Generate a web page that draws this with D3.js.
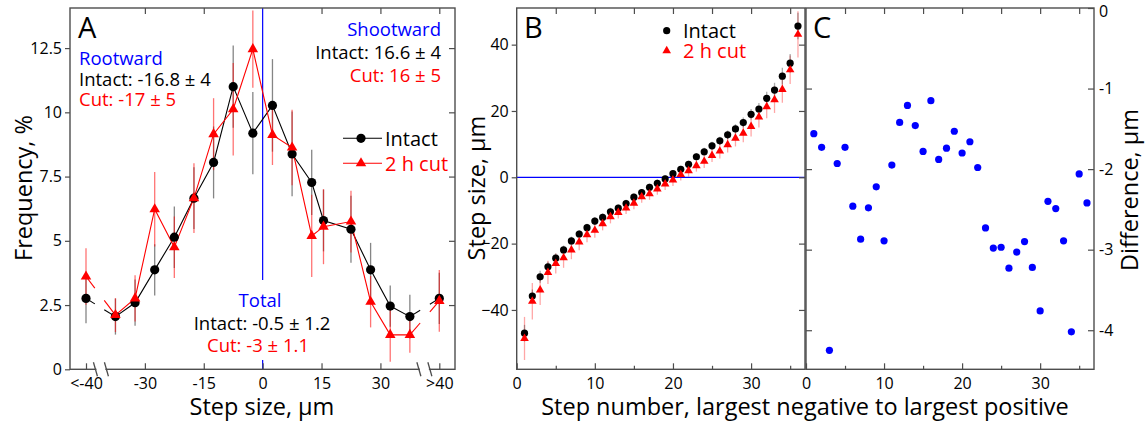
<!DOCTYPE html>
<html><head><meta charset="utf-8">
<script src="https://cdn.jsdelivr.net/npm/d3@7"></script>
<style>
body{margin:0;background:#fff}
text{font-family:"Open Sans",Lato,sans-serif}
</style>
</head><body>
<svg id="chart" width="1147" height="429"></svg>
<script>
// ---------- Panel A data ----------
const aBins = [-45,-37.5,-32.5,-27.5,-22.5,-17.5,-12.5,-7.5,-2.5,2.5,7.5,12.5,15.5,22.5,27.5,32.5,37.5,45];
const aIntact = [2.76,2.05,2.59,3.87,5.14,6.66,8.05,11.0,9.19,10.27,8.38,7.27,5.79,5.45,3.87,2.46,2.05,2.76];
const aIntactErr = [0.97,0.7,0.9,1.0,1.2,1.2,1.4,1.6,1.6,1.8,1.65,1.27,1.2,1.3,1.05,0.8,0.85,1.0];
const aCut = [3.61,2.11,2.76,6.23,4.75,6.66,9.15,10.12,12.46,9.12,8.63,5.19,5.55,5.75,2.63,1.34,1.34,2.66];
const aCutErr = [1.1,0.66,0.9,1.45,1.2,1.36,1.4,1.8,1.5,1.17,1.47,1.6,1.46,1.2,1.0,1.05,0.7,1.2];
const aXTicks = [-45,-30,-15,0,15,30,45];
const aXTickLabels = ["<-40","-30","-15","0","15","30",">40"];
const aYTicks = [0,2.5,5,7.5,10,12.5];

// ---------- Panel B data ----------
const stepNum = [1,2,3,4,5,6,7,8,9,10,11,12,13,14,15,16,17,18,19,20,21,22,23,24,25,26,27,28,29,30,31,32,33,34,35,36];
const bIntact = [-47.0,-35.8,-30.0,-27.0,-24.4,-21.9,-19.2,-17.1,-15.2,-13.2,-12.1,-10.4,-9.3,-7.9,-6.0,-4.6,-3.0,-1.8,-0.5,1.1,2.4,3.9,6.2,7.7,9.5,11.0,12.8,14.6,16.5,19.0,20.6,23.8,26.3,30.5,34.4,45.6];
const bIntactErr = [2.5,2,1.8,1.5,1.4,1.3,1.3,1.2,1.2,1.2,1.2,1.2,1.1,1.1,1.1,1.1,1.1,1.1,1.1,1.1,1.1,1.1,1.1,1.2,1.2,1.2,1.3,1.4,1.5,1.6,1.8,2,2.2,2.5,2.8,4];
const bCut = [-48.6,-37.4,-34.0,-28.7,-26.0,-24.3,-21.9,-19.5,-17.3,-16.0,-14.0,-11.9,-10.6,-9.3,-7.8,-5.9,-5.0,-3.5,-2.0,-0.8,0.8,2.0,3.5,4.8,6.6,7.9,9.8,11.8,13.3,15.3,18.2,21.3,23.4,26.5,32.4,43.1];
const bCutErr = [6.5,5.5,4.5,3.5,3,3,2.8,2.5,2.3,2.2,2,2,1.8,1.8,1.8,1.8,1.8,1.8,1.8,1.8,1.8,1.8,1.8,2,2,2.2,2.3,2.5,2.7,3,3.2,3.5,4,4,4.3,7];
const bYTicks = [-40,-20,0,20,40];
const stepTicksMajor = [0,10,20,30];
const stepTicksMinor = [5,15,25,35];

// ---------- Panel C data ----------
const cDiff = [-1.56,-1.73,-4.25,-1.93,-1.73,-2.46,-2.87,-2.48,-2.22,-2.89,-1.95,-1.42,-1.21,-1.46,-1.78,-1.15,-1.88,-1.74,-1.53,-1.80,-1.66,-1.98,-2.73,-2.98,-2.97,-3.23,-3.03,-2.90,-3.22,-3.76,-2.40,-2.49,-2.89,-4.02,-2.06,-2.42];
const cYTicks = [0,-1,-2,-3,-4];

// ---------- styles ----------
const RED = "#ff0000", BLUE = "#0000ff", AX = "#4d4d4d";
const FONT = "'Open Sans', Lato, sans-serif";
const TICKFS = 16, TITLEFS = 23.5, ANNFS = 18.5, LEGFS = 20, LETFS = 29;

const svg = d3.select("#chart");
const pTop = 8, pBottom = 369.3;

function styleAxis(g){
  g.selectAll(".domain").remove();
  g.selectAll(".tick line").attr("stroke", AX).attr("stroke-width", 1.2);
  g.selectAll(".tick text").attr("fill", "#000").style("font-size", TICKFS + "px").style("font-family", FONT);
  return g;
}
function frame(x0, x1){
  svg.append("rect").attr("x", x0).attr("y", pTop).attr("width", x1 - x0).attr("height", pBottom - pTop)
    .attr("fill", "none").attr("stroke", AX).attr("stroke-width", 1.4);
}
function tri(g, x, y, size, color){
  g.append("path").attr("d", d3.symbol(d3.symbolTriangle, size)())
    .attr("transform", `translate(${x},${y})`).attr("fill", color);
}
function title(x, y, s, rot){
  const t = svg.append("text").attr("text-anchor", "middle").style("font-size", TITLEFS + "px").text(s);
  if (rot) t.attr("transform", `translate(${x},${y}) rotate(-90)`); else t.attr("x", x).attr("y", y);
}

// ================= Panel A =================
const xA = d3.scaleLinear().domain([-45, 45]).range([86, 439.3]);
const yA = d3.scaleLinear().domain([0, 14.06]).range([pBottom, pTop]);
const aL = 70, aR = 455;
const gA = svg.append("g");

gA.append("line").attr("x1", xA(0)).attr("x2", xA(0)).attr("y1", pTop).attr("y2", 280).attr("stroke", BLUE).attr("stroke-width", 1.2);
gA.append("line").attr("x1", xA(0)).attr("x2", xA(0)).attr("y1", 360).attr("y2", pBottom).attr("stroke", BLUE).attr("stroke-width", 1.2);

styleAxis(svg.append("g").attr("transform", `translate(${aL},0)`)
  .call(d3.axisLeft(yA).tickValues(aYTicks).tickSize(5).tickPadding(3).tickFormat(d => d === 0 ? "0" : String(d))));
styleAxis(svg.append("g").attr("transform", `translate(${aR},0)`)
  .call(d3.axisRight(yA).tickValues(aYTicks.filter(d => d > 0)).tickSize(-6).tickFormat("")));
styleAxis(svg.append("g").attr("transform", `translate(0,${pBottom})`)
  .call(d3.axisBottom(xA).tickValues(aXTicks).tickSize(-6).tickPadding(8).tickFormat((d, i) => aXTickLabels[i])));
styleAxis(svg.append("g").attr("transform", `translate(0,${pTop})`)
  .call(d3.axisTop(xA).tickValues([-30,-15,15,30,45]).tickSize(-6).tickFormat("")));
frame(aL, aR);

// axis break marks
[[xA(-42.6), xA(-39.8)], [xA(39.8), xA(42.6)]].forEach(([p, q]) => {
  svg.append("line").attr("x1", p + 1).attr("x2", q - 1).attr("y1", pBottom).attr("y2", pBottom).attr("stroke", "#fff").attr("stroke-width", 3);
  [p, q].forEach(x => svg.append("line").attr("x1", x - 2).attr("y1", pBottom - 7).attr("x2", x + 2).attr("y2", pBottom + 7)
    .attr("stroke", AX).attr("stroke-width", 1.3));
});

aBins.forEach((b, i) => {
  gA.append("line").attr("x1", xA(b)).attr("x2", xA(b)).attr("y1", yA(aIntact[i] - aIntactErr[i])).attr("y2", yA(aIntact[i] + aIntactErr[i]))
    .attr("stroke", "#333").attr("stroke-opacity", 0.6).attr("stroke-width", 1.3);
  gA.append("line").attr("x1", xA(b)).attr("x2", xA(b)).attr("y1", yA(aCut[i] - aCutErr[i])).attr("y2", yA(aCut[i] + aCutErr[i]))
    .attr("stroke", RED).attr("stroke-opacity", 0.55).attr("stroke-width", 1.3);
});

function drawSeries(vals, color){
  const pts = aBins.map((b, i) => [xA(b), yA(vals[i])]);
  const line = d3.line();
  gA.append("path").attr("d", line(pts.slice(1, pts.length - 1))).attr("fill", "none").attr("stroke", color).attr("stroke-width", 1.1);
  const seg = (a, c, t0, t1) => [[a[0] + (c[0] - a[0]) * t0, a[1] + (c[1] - a[1]) * t0], [a[0] + (c[0] - a[0]) * t1, a[1] + (c[1] - a[1]) * t1]];
  const n = pts.length;
  [seg(pts[0], pts[1], 0, 0.3), seg(pts[0], pts[1], 0.62, 1), seg(pts[n - 2], pts[n - 1], 0, 0.35), seg(pts[n - 2], pts[n - 1], 0.68, 1)]
    .forEach(s => gA.append("path").attr("d", line(s)).attr("fill", "none").attr("stroke", color).attr("stroke-width", 1.1));
}
drawSeries(aIntact, "#000");
drawSeries(aCut, RED);
aBins.forEach((b, i) => gA.append("circle").attr("cx", xA(b)).attr("cy", yA(aIntact[i])).attr("r", 4.6).attr("fill", "#000"));
aBins.forEach((b, i) => tri(gA, xA(b), yA(aCut[i]), 48, RED));

// legend A
gA.append("line").attr("x1", 343).attr("x2", 382).attr("y1", 138.3).attr("y2", 138.3).attr("stroke", "#000").attr("stroke-width", 1.1);
gA.append("circle").attr("cx", 361).attr("cy", 138.3).attr("r", 4.6).attr("fill", "#000");
gA.append("text").attr("x", 385).attr("y", 145.5).style("font-size", LEGFS + "px").text("Intact");
gA.append("line").attr("x1", 343).attr("x2", 382).attr("y1", 163.3).attr("y2", 163.3).attr("stroke", RED).attr("stroke-width", 1.1);
tri(gA, 361, 163.3, 48, RED);
gA.append("text").attr("x", 385).attr("y", 170.5).style("font-size", LEGFS + "px").attr("fill", RED).text("2 h cut");

const ann = (x, y, s, c, anchor) => gA.append("text").attr("x", x).attr("y", y).attr("fill", c).attr("text-anchor", anchor || "start").style("font-size", ANNFS + "px").text(s);
ann(79, 65, "Rootward", BLUE);
ann(79, 86, "Intact: -16.8 ± 4", "#000");
ann(79, 106, "Cut: -17 ± 5", RED);
ann(441, 36, "Shootward", BLUE, "end");
ann(441, 59, "Intact: 16.6 ± 4", "#000", "end");
ann(441, 81.5, "Cut: 16 ± 5", RED, "end");
ann(260, 307, "Total", BLUE, "middle");
ann(262, 330, "Intact: -0.5 ± 1.2", "#000", "middle");
ann(258, 352, "Cut: -3 ± 1.1", RED, "middle");
gA.append("text").attr("x", 78).attr("y", 38).style("font-size", LETFS + "px").text("A");

title(32, 188, "Frequency, %", true);
title(262, 415, "Step size, μm", false);

// ================= Panel B =================
const bL = 516.7, bR = 805;
const xB = d3.scaleLinear().domain([0, 36.9]).range([bL, bR]);
const yB = d3.scaleLinear().domain([-57.9, 51.05]).range([pBottom, pTop]);
const gB = svg.append("g");
gB.append("line").attr("x1", bL).attr("x2", bR).attr("y1", yB(0)).attr("y2", yB(0)).attr("stroke", BLUE).attr("stroke-width", 1.2);

styleAxis(svg.append("g").attr("transform", `translate(${bL},0)`)
  .call(d3.axisLeft(yB).tickValues(bYTicks).tickSize(5).tickPadding(3)));
styleAxis(svg.append("g").attr("transform", `translate(${bR},0)`)
  .call(d3.axisRight(yB).tickValues(bYTicks).tickSize(-6).tickFormat("")));
styleAxis(svg.append("g").attr("transform", `translate(0,${pBottom})`)
  .call(d3.axisBottom(xB).tickValues(stepTicksMajor).tickSize(-6).tickPadding(8).tickFormat(d3.format("d"))));
styleAxis(svg.append("g").attr("transform", `translate(0,${pBottom})`)
  .call(d3.axisBottom(xB).tickValues(stepTicksMinor).tickSize(-3.5).tickFormat("")));
styleAxis(svg.append("g").attr("transform", `translate(0,${pTop})`)
  .call(d3.axisTop(xB).tickValues(stepTicksMajor.slice(1).concat(stepTicksMinor)).tickSize(-6).tickFormat("")));

stepNum.forEach((s, i) => {
  gB.append("line").attr("x1", xB(s)).attr("x2", xB(s)).attr("y1", yB(bCut[i] - bCutErr[i])).attr("y2", yB(bCut[i] + bCutErr[i]))
    .attr("stroke", RED).attr("stroke-opacity", 0.35).attr("stroke-width", 1.3);
  gB.append("line").attr("x1", xB(s)).attr("x2", xB(s)).attr("y1", yB(bIntact[i] - bIntactErr[i])).attr("y2", yB(bIntact[i] + bIntactErr[i]))
    .attr("stroke", "#333").attr("stroke-opacity", 0.4).attr("stroke-width", 1.3);
});
stepNum.forEach((s, i) => gB.append("circle").attr("cx", xB(s)).attr("cy", yB(bIntact[i])).attr("r", 3.6).attr("fill", "#000"));
stepNum.forEach((s, i) => tri(gB, xB(s), yB(bCut[i]), 32, RED));

gB.append("circle").attr("cx", 666.7).attr("cy", 30.7).attr("r", 3.6).attr("fill", "#000");
gB.append("text").attr("x", 683).attr("y", 37.5).style("font-size", LEGFS + "px").text("Intact");
tri(gB, 666.7, 50.7, 32, RED);
gB.append("text").attr("x", 683).attr("y", 57.5).style("font-size", LEGFS + "px").attr("fill", RED).text("2 h cut");
gB.append("text").attr("x", 524).attr("y", 37.5).style("font-size", LETFS + "px").text("B");
title(485, 188, "Step size, μm", true);

// ================= Panel C =================
const cL = 806, cR = 1094;
const xC = d3.scaleLinear().domain([0, 36.9]).range([cL, cR]);
const yC = d3.scaleLinear().domain([-4.485, 0]).range([pBottom, pTop]);
const cRight = styleAxis(svg.append("g").attr("transform", `translate(${cR},0)`)
  .call(d3.axisRight(yC).tickValues(cYTicks).tickSize(-6).tickPadding(5).tickFormat(d => d === 0 ? "0" : String(d))));
cRight.selectAll(".tick text").filter(d => d === 0).attr("dy", "0.55em");
styleAxis(svg.append("g").attr("transform", `translate(${cL},0)`)
  .call(d3.axisLeft(yC).tickValues(cYTicks.slice(1)).tickSize(-6).tickFormat("")));
styleAxis(svg.append("g").attr("transform", `translate(0,${pBottom})`)
  .call(d3.axisBottom(xC).tickValues(stepTicksMajor).tickSize(-6).tickPadding(8).tickFormat(d3.format("d"))));
styleAxis(svg.append("g").attr("transform", `translate(0,${pBottom})`)
  .call(d3.axisBottom(xC).tickValues(stepTicksMinor).tickSize(-3.5).tickFormat("")));
styleAxis(svg.append("g").attr("transform", `translate(0,${pTop})`)
  .call(d3.axisTop(xC).tickValues(stepTicksMajor.slice(1).concat(stepTicksMinor)).tickSize(-6).tickFormat("")));
frame(bL, bR);
frame(cL, cR);

const gC = svg.append("g");
stepNum.forEach((s, i) => gC.append("circle").attr("cx", xC(s)).attr("cy", yC(cDiff[i])).attr("r", 3.6).attr("fill", BLUE));
gC.append("text").attr("x", 813).attr("y", 38).style("font-size", LETFS + "px").text("C");
title(1138, 190, "Difference, μm", true);

title(805, 415, "Step number, largest negative to largest positive", false);
</script>
</body></html>
